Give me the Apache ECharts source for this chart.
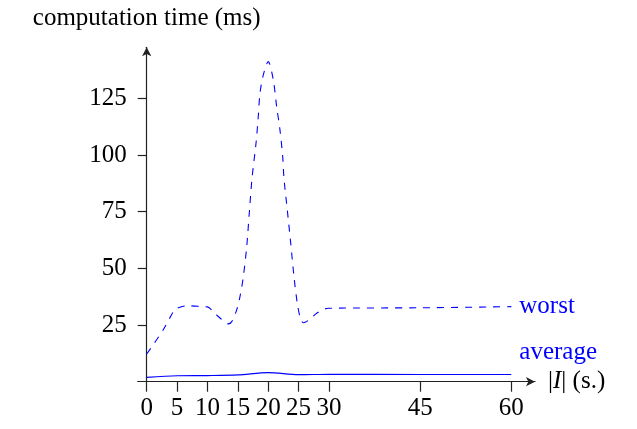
<!DOCTYPE html>
<html>
<head>
<meta charset="utf-8">
<script src="https://cdn.jsdelivr.net/npm/echarts@6/dist/echarts.min.js"></script>
<style>html,body{margin:0;padding:0;background:#fff;}#c{width:637px;height:429px;}</style>
</head>
<body>
<div id="c"></div>
<script>
// Data
const worstX = [0, 2.7, 4.4, 5, 6.6, 9.3, 10, 11.2, 12.1, 13.4, 14.0, 14.8, 15.35, 15.9, 16.46, 16.88, 17.33, 17.99, 18.36, 18.64, 19.19, 20.0, 20.83, 21.39, 21.93, 22.38, 22.59, 23.14, 23.7, 24.24, 24.78, 25.23, 25.77, 26.87, 27.97, 29.88, 45, 60];
const worstY = [12.2, 22.8, 30.9, 32.4, 33.5, 33.1, 33.0, 30.2, 28.0, 25.5, 26.5, 31.6, 37.5, 46.3, 59.6, 74.3, 89.7, 105.2, 116.9, 127.2, 135.3, 141.2, 133.1, 121.3, 111.1, 99.3, 89.7, 75.7, 61.1, 46.3, 34.6, 28.7, 26.0, 27.5, 30.2, 32.4, 32.6, 33.1];
const avgX = [0, 5, 10, 15, 20, 25, 30, 45, 60];
const avgY = [1.9, 2.6, 2.7, 3.0, 4.0, 3.1, 3.3, 3.2, 3.2];
const xTicks = [0, 5, 10, 15, 20, 25, 30, 45, 60];
const yTicks = [25, 50, 75, 100, 125];
const yTitle = 'computation time (ms)';
const seriesNames = ['worst', 'average'];

const FONT = 'Liberation Serif';
const FS = 25;
const chart = echarts.init(document.getElementById('c'), null, {renderer: 'canvas'});
const zip = (a, b) => a.map((v, i) => [v, b[i]]);
const axisLineStyle = {color: '#222', width: 1.2};

chart.setOption({
  animation: false,
  backgroundColor: '#fff',
  grid: {left: 137.7, top: 47.3, width: 397.3, height: 334.4, containLabel: false},
  xAxis: {
    type: 'value', min: -1.48, max: 63.9,
    axisLine: {show: true, onZero: true, lineStyle: axisLineStyle, symbol: ['none', 'arrow'], symbolSize: [7, 9], symbolOffset: [0, 0]},
    axisTick: {show: true, inside: false, length: 10, lineStyle: axisLineStyle, customValues: xTicks},
    axisLabel: {show: true, margin: 14, color: '#000', fontFamily: FONT, fontSize: FS, customValues: xTicks},
    splitLine: {show: false},
    name: '{n||}{i|I}{n|| (s.)}',
    nameLocation: 'end', nameGap: 13,
    nameTextStyle: {
      color: '#000', fontFamily: FONT, fontSize: FS, verticalAlign: 'middle',
      rich: {n: {fontFamily: FONT, fontSize: FS, color: '#000'}, i: {fontFamily: FONT, fontSize: FS, fontStyle: 'italic', color: '#000'}}
    }
  },
  yAxis: {
    type: 'value', min: 0, max: 147.5,
    axisLine: {show: true, onZero: true, lineStyle: axisLineStyle, symbol: ['none', 'arrow'], symbolSize: [7, 9]},
    axisTick: {show: true, inside: false, length: 9, lineStyle: axisLineStyle, customValues: yTicks},
    axisLabel: {show: true, margin: 11, color: '#000', fontFamily: FONT, fontSize: FS, customValues: yTicks},
    splitLine: {show: false},
    name: yTitle,
    nameLocation: 'end', nameGap: 16,
    nameTextStyle: {color: '#000', fontFamily: FONT, fontSize: FS, align: 'center'}
  },
  series: [
    {
      name: seriesNames[0], type: 'line', data: zip(worstX, worstY), smooth: 0.3,
      showSymbol: false, symbol: 'none',
      lineStyle: {color: '#0000ff', width: 1.1, type: [7, 7]},
      endLabel: {show: true, formatter: seriesNames[0], color: '#0000ff', fontFamily: FONT, fontSize: FS, distance: 8}
    },
    {
      name: seriesNames[1], type: 'line', data: zip(avgX, avgY), smooth: 0.3,
      showSymbol: false, symbol: 'none',
      lineStyle: {color: '#0000ff', width: 1.1},
      endLabel: {show: true, formatter: seriesNames[1], color: '#0000ff', fontFamily: FONT, fontSize: FS, distance: 8, offset: [0, -22]}
    }
  ]
});
</script>
</body>
</html>
